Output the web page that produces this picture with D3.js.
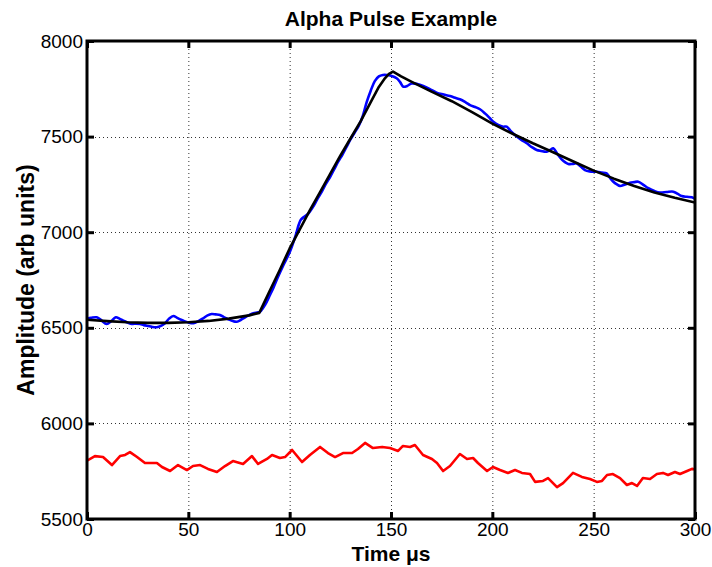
<!DOCTYPE html>
<html>
<head>
<meta charset="utf-8">
<script src="https://cdn.jsdelivr.net/npm/d3@7"></script>
<style>
  body { margin: 0; background: #fff; }
  text { font-family: "Liberation Sans", Arial, sans-serif; fill: #000; }
</style>
</head>
<body>
<svg width="712" height="567"></svg>
<script>
// **** Data (time in µs, amplitude in arb units) ****

var xTicks = [0, 50, 100, 150, 200, 250, 300];
var yTicks = [5500, 6000, 6500, 7000, 7500, 8000];

// measured pulse (blue)
var pulseSignal = [
  [0,6548],[2,6552],[4.8,6555],[7,6540],[9.7,6520],[12,6535],[14.2,6555],[16,6548],
  [17.9,6537],[20,6528],[22.1,6520],[24,6522],[26.2,6520],[28,6514],[30.2,6509],
  [32,6505],[34.4,6503],[36.5,6510],[38.5,6524],[40.5,6548],[42.6,6562],[44.5,6552],
  [46.7,6541],[48,6535],[50,6528],[52.5,6524],[55,6535],[57.4,6550],[59.5,6565],
  [61.5,6572],[63.5,6570],[65.6,6567],[67.5,6556],[69.7,6545],[72,6535],[73.9,6532],
  [76,6542],[78,6555],[80,6566],[82.1,6576],[84,6580],[85.4,6584],[87.8,6619],
  [90.3,6672],[92,6710],[94,6760],[97,6830],[100,6895],[103,6985],[104.5,7040],
  [105.5,7065],[107,7080],[109,7095],[112,7140],[114,7180],[116,7215],[118,7255],
  [120,7290],[122,7330],[124,7370],[126,7405],[128,7445],[130,7485],[132,7520],
  [134,7555],[136,7605],[138,7680],[140,7740],[142,7790],[144,7815],[146,7822],
  [148,7822],[150,7818],[152.8,7805],[154.5,7785],[156.1,7761],[158,7765],[160.2,7778],
  [163,7775],[165.9,7765],[169,7750],[172.5,7730],[176,7720],[179.1,7712],[182,7702],
  [184,7695],[187,7678],[189,7665],[191.5,7655],[193.9,7643],[196.5,7620],[198.8,7596],
  [200.5,7578],[202.9,7561],[205.4,7552],[207.1,7552],[209,7530],[211.2,7508],
  [214,7485],[217,7465],[219.5,7445],[221.9,7430],[224,7425],[226.8,7421],[228.5,7430],
  [230.1,7439],[232,7410],[234.2,7381],[236,7365],[237.5,7357],[239.5,7357],
  [241.6,7360],[243.5,7345],[245.7,7325],[248,7318],[251.5,7316],[254,7312],
  [256.4,7308],[258,7285],[259.7,7264],[261.5,7250],[263,7242],[265.5,7250],
  [267.9,7259],[270,7262],[272,7264],[274.5,7248],[277,7230],[280,7215],[282.7,7207],
  [286,7210],[289.3,7212],[291.5,7200],[293.4,7189],[296,7185],[298.4,7183],[300,7175]
];

// fitted pulse shape (black)
var pulseFit = [
  [0,6542],[10,6535],[20,6529],[30,6526],[40,6526],[50,6529],[60,6536],[70,6548],
  [80,6565],[85,6578],[90,6690],[95,6800],[100,6915],[105,7015],[110,7115],[115,7210],
  [120,7305],[125,7400],[130,7490],[135,7580],[140,7680],[144,7760],[147,7805],
  [149,7828],[151,7840],[155,7815],[160,7788],[170,7735],[180,7685],[190,7628],
  [200,7568],[210,7515],[220,7465],[230,7418],[240,7370],[250,7322],[260,7280],
  [270,7242],[280,7208],[290,7180],[300,7155]
];

// baseline noise (red)
var baselineNoise = [
  [0,5805],[3.9,5829],[7.9,5824],[12.3,5782],[16.3,5829],[18.8,5835],[21.2,5850],
  [24.7,5824],[28.6,5793],[34.5,5793],[37,5772],[41,5751],[44.9,5782],[49.3,5756],
  [52.3,5777],[55.8,5782],[59.7,5762],[64.1,5746],[68.1,5777],[72,5803],[77,5788],
  [81.4,5829],[84.4,5788],[88.8,5814],[91.3,5835],[95.2,5819],[97.7,5824],[101.2,5861],
  [106.1,5798],[110,5835],[115,5877],[118.9,5845],[122.4,5824],[126.3,5845],[130.8,5845],
  [133.7,5866],[137.2,5898],[141.1,5871],[145.6,5877],[149.5,5871],[153.5,5856],
  [155.9,5882],[159.4,5877],[161.8,5887],[165.8,5835],[170.2,5814],[172.7,5793],
  [175.7,5751],[179.1,5777],[184,5840],[187.5,5814],[190.5,5819],[192.9,5793],
  [197.4,5751],[200.3,5772],[203.8,5756],[207.7,5741],[211.2,5756],[214.6,5741],
  [218.6,5735],[221.1,5694],[225,5699],[227.5,5714],[231.9,5667],[234.9,5688],
  [239.8,5741],[244.2,5720],[248.2,5709],[251.6,5694],[254.1,5699],[256.6,5730],
  [259.5,5735],[263,5714],[266.4,5678],[268.9,5688],[271.4,5673],[274.3,5714],
  [277.8,5709],[281.2,5735],[284.2,5741],[286.7,5730],[290.1,5746],[292.6,5735],
  [296.1,5751],[298.5,5762],[300,5760]
];

// **** Scales ****

var xScale = d3.scaleLinear().domain([0, 300]).range([87, 695]);
var yScale = d3.scaleLinear().domain([5500, 8000]).range([519, 41]);

var svg = d3.select('svg');

// **** Grid ****

var grid = svg.append('g')
    .attr('stroke', '#333')
    .attr('stroke-width', 1)
    .attr('stroke-dasharray', '1,3');

grid.selectAll('.vgrid').data(xTicks.slice(1, -1)).enter()
    .append('line')
    .attr('x1', d => xScale(d) + 0.5).attr('x2', d => xScale(d) + 0.5)
    .attr('y1', 41).attr('y2', 519);

grid.selectAll('.hgrid').data(yTicks.slice(1, -1)).enter()
    .append('line')
    .attr('y1', d => Math.round(yScale(d)) + 0.5).attr('y2', d => Math.round(yScale(d)) + 0.5)
    .attr('x1', 87).attr('x2', 695);

// **** Lines ****

svg.append('clipPath').attr('id', 'plot')
    .append('rect').attr('x', 87).attr('y', 41).attr('width', 608).attr('height', 478);

var plot = svg.append('g').attr('clip-path', 'url(#plot)');

var lineLinear = d3.line()
    .x(d => xScale(d[0]))
    .y(d => yScale(d[1]));

var lineSmooth = d3.line()
    .x(d => xScale(d[0]))
    .y(d => yScale(d[1]))
    .curve(d3.curveCatmullRom);

plot.append('path').datum(baselineNoise)
    .attr('d', lineLinear)
    .attr('fill', 'none').attr('stroke', '#ff0000')
    .attr('stroke-width', 2.6).attr('stroke-linejoin', 'round');

plot.append('path').datum(pulseSignal)
    .attr('d', lineSmooth)
    .attr('fill', 'none').attr('stroke', '#0000ff')
    .attr('stroke-width', 2.6).attr('stroke-linejoin', 'round');

plot.append('path').datum(pulseFit)
    .attr('d', lineLinear)
    .attr('fill', 'none').attr('stroke', '#000')
    .attr('stroke-width', 2.6).attr('stroke-linejoin', 'round');

// **** Axes ****

function styleAxis(g) {
    g.select('.domain').remove();
    g.selectAll('.tick line').attr('stroke', '#000').attr('stroke-width', 3);
    g.selectAll('.tick text')
        .style('font-family', '"Liberation Sans", Arial, sans-serif')
        .style('font-size', '19px')
        .attr('fill', '#000');
}

svg.append('g').attr('transform', 'translate(0,519)')
    .call(d3.axisBottom(xScale).tickValues(xTicks).tickFormat(d3.format('d'))
        .tickSizeInner(-7).tickSizeOuter(0).tickPadding(4))
    .call(styleAxis);

svg.append('g').attr('transform', 'translate(0,41)')
    .call(d3.axisTop(xScale).tickValues(xTicks).tickSizeInner(-7).tickSizeOuter(0).tickFormat(''))
    .call(styleAxis);

svg.append('g').attr('transform', 'translate(87,0)')
    .call(d3.axisLeft(yScale).tickValues(yTicks).tickFormat(d3.format('d'))
        .tickSizeInner(-7).tickSizeOuter(0).tickPadding(4))
    .call(styleAxis);

svg.append('g').attr('transform', 'translate(695,0)')
    .call(d3.axisRight(yScale).tickValues(yTicks).tickSizeInner(-7).tickSizeOuter(0).tickFormat(''))
    .call(styleAxis);

svg.append('rect')
    .attr('x', 87).attr('y', 41).attr('width', 608).attr('height', 478)
    .attr('fill', 'none').attr('stroke', '#000').attr('stroke-width', 3);

// **** Labels ****

svg.append('text')
    .attr('x', 391).attr('y', 26)
    .attr('text-anchor', 'middle')
    .style('font-size', '21px').style('font-weight', 'bold')
    .text('Alpha Pulse Example');

svg.append('text')
    .attr('x', 391).attr('y', 561)
    .attr('text-anchor', 'middle')
    .style('font-size', '21px').style('font-weight', 'bold')
    .text('Time μs');

svg.append('text')
    .attr('transform', 'translate(34,280) rotate(-90)')
    .attr('text-anchor', 'middle')
    .style('font-size', '23px').style('font-weight', 'bold')
    .text('Amplitude (arb units)');
</script>
</body>
</html>
